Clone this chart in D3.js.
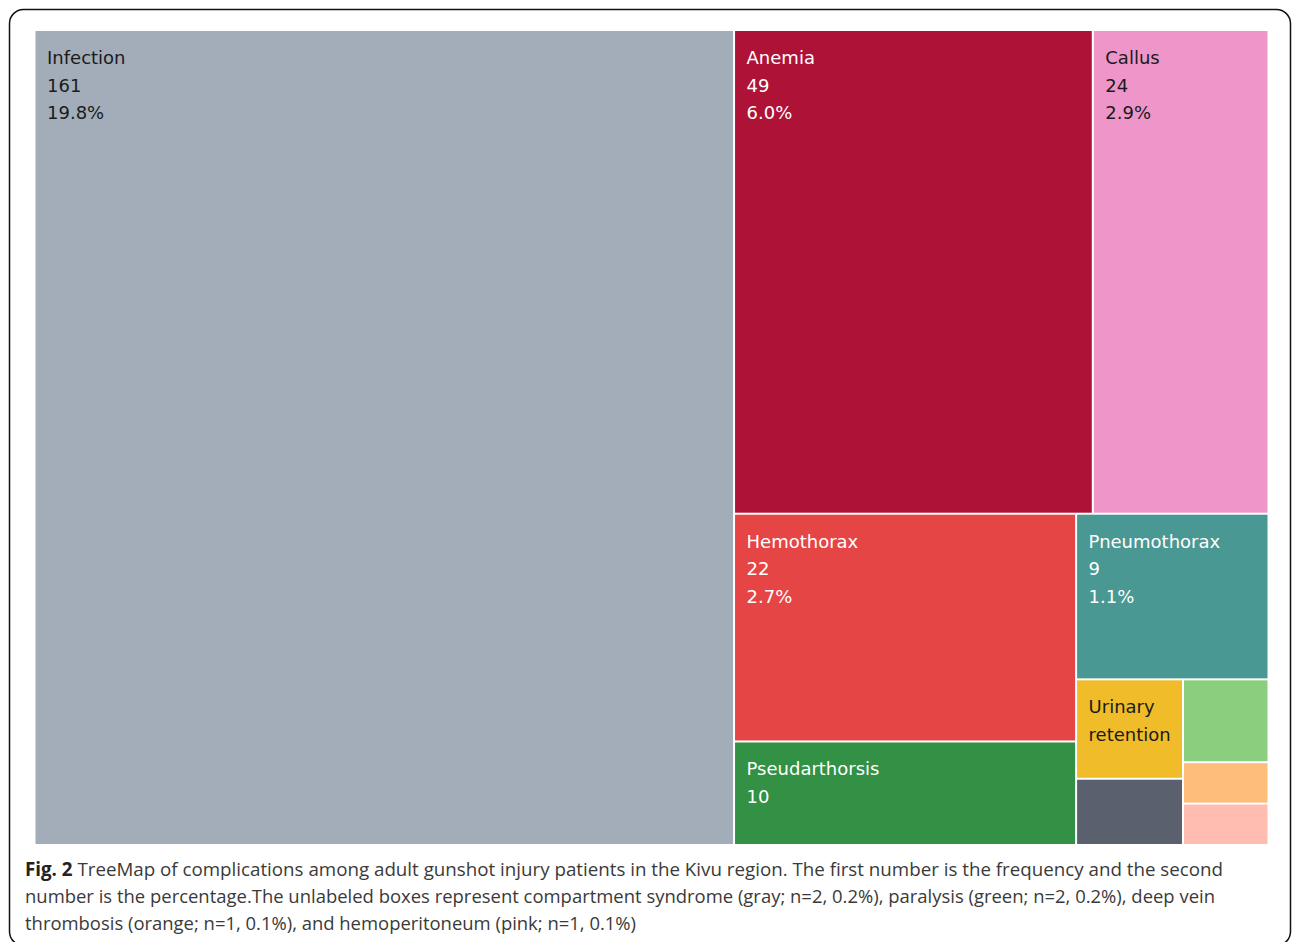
<!DOCTYPE html>
<html>
<head>
<meta charset="utf-8">
<script src="https://cdn.jsdelivr.net/npm/d3@7"></script>
<style>
    body { margin: 0; background: #fff; }
    svg { display: block; }
</style>
</head>
<body>
<svg class="treeMap"></svg>
<script>
// complications (order matches the layout index below)
const names = ["Infection", "Anemia", "Callus", "Hemothorax", "Pneumothorax", "Pseudarthorsis",
    "Urinary retention", "Compartment syndrome", "Paralysis", "Deep vein thrombosis", "Hemoperitoneum"];
const counts = [161, 49, 24, 22, 9, 10, 3, 2, 2, 1, 1];
const pcts = ["19.8%", "6.0%", "2.9%", "2.7%", "1.1%", "", "", "", "", "", ""];
const colors = ["#a2adb9", "#ae1236", "#ee96c9", "#e64546", "#4a9893", "#329144",
    "#f0bc29", "#5a606d", "#8bce7e", "#ffbd7c", "#ffbdb1"];
const darkText = [true, false, true, false, false, false, true, false, false, false, false];
// text lines shown in each box
const labelLines = [
    ["Infection", "161", "19.8%"],
    ["Anemia", "49", "6.0%"],
    ["Callus", "24", "2.9%"],
    ["Hemothorax", "22", "2.7%"],
    ["Pneumothorax", "9", "1.1%"],
    ["Pseudarthorsis", "10"],
    ["Urinary", "retention"],
    [], [], [], []
];
// nesting of the boxes (slice / dice alternates by depth)
const layoutGroups = [0, [[1, 2], [[3, 5], [4, [[6, 7], [8, 9, 10]]]]]];

const captionLines = [
    "TreeMap of complications among adult gunshot injury patients in the Kivu region. The first number is the frequency and the second",
    "number is the percentage.The unlabeled boxes represent compartment syndrome (gray; n=2, 0.2%), paralysis (green; n=2, 0.2%), deep vein",
    "thrombosis (orange; n=1, 0.1%), and hemoperitoneum (pink; n=1, 0.1%)"
];

const W = 1292, H = 942;
const svg = d3.select(".treeMap").attr("width", W).attr("height", H);

// frame
svg.append("rect")
    .attr("x", 9.5).attr("y", 9.5)
    .attr("width", 1281).attr("height", 936)
    .attr("rx", 14)
    .attr("fill", "none")
    .attr("stroke", "#111")
    .attr("stroke-width", 1.5);

function toNode(n) {
    return Array.isArray(n) ? {children: n.map(toNode)} : {idx: n};
}

const root = d3.hierarchy(toNode(layoutGroups))
    .sum(d => d.idx !== undefined ? counts[d.idx] : 0);

d3.treemap()
    .tile(d3.treemapSliceDice)
    .size([1232, 813])
    .paddingInner(2)
    .round(false)(root);

const g = svg.append("g").attr("transform", "translate(35.5,31)");

const cell = g.selectAll("g.cell")
    .data(root.leaves())
    .enter().append("g")
    .attr("class", "cell")
    .attr("transform", d => `translate(${d.x0},${d.y0})`);

cell.append("rect")
    .attr("width", d => d.x1 - d.x0)
    .attr("height", d => d.y1 - d.y0)
    .attr("fill", d => colors[d.data.idx]);

cell.append("text")
    .attr("x", 11.5)
    .attr("y", 33)
    .style("font-family", "DejaVu Sans")
    .style("font-size", "18px")
    .attr("fill", d => darkText[d.data.idx] ? "#1b1b1b" : "#ffffff")
    .selectAll("tspan")
    .data(d => labelLines[d.data.idx])
    .enter().append("tspan")
    .attr("x", 11.5)
    .attr("dy", (t, i) => i === 0 ? 0 : 27.5)
    .text(t => t);

// caption
const cap = svg.append("g")
    .style("font-family", "Open Sans")
    .style("font-size", "19px")
    .attr("fill", "#3a3a3a");

const capWidths = [1198, 1190, 611];
captionLines.forEach((line, i) => {
    const t = cap.append("text")
        .attr("x", 25)
        .attr("y", 876 + i * 27)
        .attr("textLength", capWidths[i])
        .attr("lengthAdjust", "spacingAndGlyphs");
    if (i === 0) {
        t.append("tspan").attr("font-weight", "bold").attr("fill", "#222").text("Fig. 2");
        t.append("tspan").text(" " + line);
    } else {
        t.text(line);
    }
});
</script>
</body>
</html>
